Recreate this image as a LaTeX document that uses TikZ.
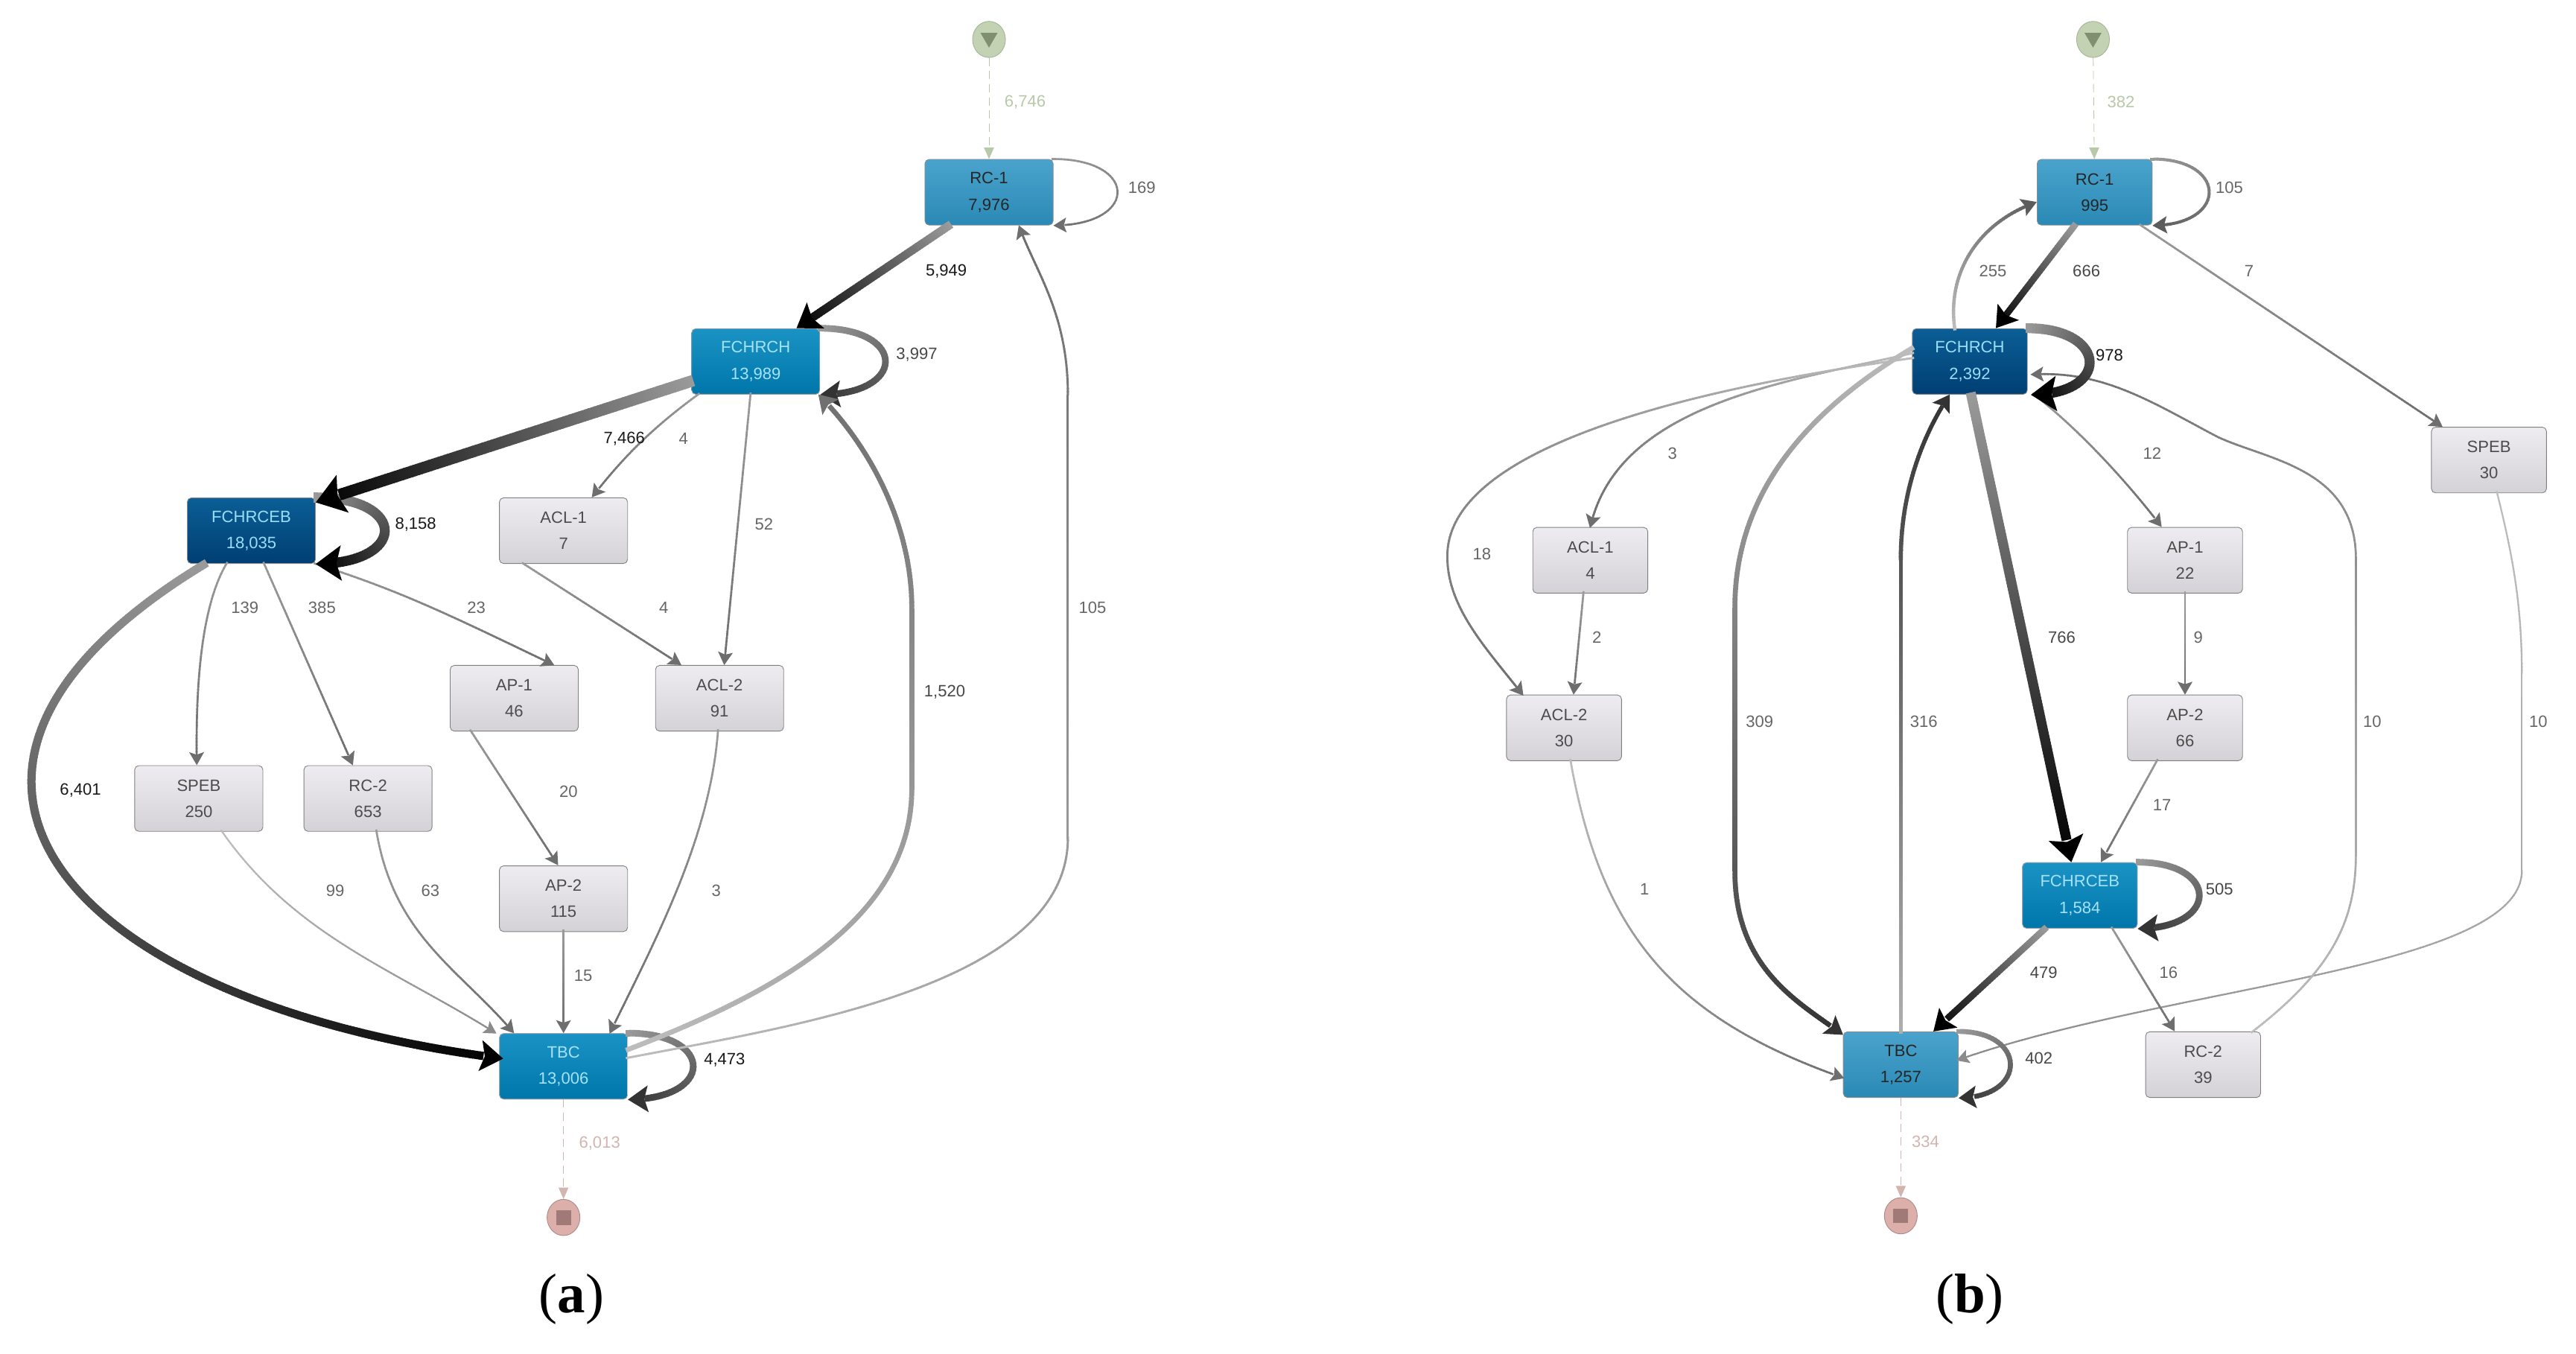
\documentclass[tikz,border=0pt]{standalone}
\usepackage{fontspec}
\setmainfont{Liberation Sans}
\newfontfamily\capfont{Liberation Serif}
\usepackage{tikz}
\usetikzlibrary{
  shapes.geometric,
  arrows.meta,
  decorations.markings
}
\definecolor{startfill}{HTML}{C4D2B4}
\definecolor{startedge}{HTML}{A3B394}
\definecolor{starticon}{HTML}{7F9070}
\definecolor{startflow}{HTML}{B7C9A8}
\definecolor{endfill}{HTML}{DCAFAB}
\definecolor{endedge}{HTML}{AD8783}
\definecolor{endicon}{HTML}{A07A76}
\definecolor{endflow}{HTML}{D3B5B0}
\definecolor{flowlight}{HTML}{BDBDBD}
\definecolor{flowbase}{HTML}{AEAEAE}
\definecolor{flowmid}{HTML}{9A9A9A}
\definecolor{flowsoft}{HTML}{8B8B8B}
\definecolor{flowgrit}{HTML}{707070}
\definecolor{flowdark}{HTML}{6E6E6E}
\definecolor{flowfirm}{HTML}{5C5C5C}
\definecolor{flowdeep}{HTML}{333333}
\definecolor{softtop}{HTML}{4AA3CC}
\definecolor{softbot}{HTML}{2A8AB5}
\definecolor{vividtop}{HTML}{1A93C4}
\definecolor{vividbot}{HTML}{0076AA}
\definecolor{deeptop}{HTML}{0B5E96}
\definecolor{deepbot}{HTML}{003F73}
\definecolor{paletop}{HTML}{EEECF0}
\definecolor{palebot}{HTML}{D4D2D7}

\begin{document}
\begin{tikzpicture}[
    x=1pt, y=-1pt,
    font=\fontsize{10}{16}\selectfont,
    box/.style={
      rectangle, rounded corners=2.5pt,
      minimum height=40pt, inner sep=0pt,
      text centered, align=center, draw
    },
    boxa/.style={box, minimum width=78pt},
    boxb/.style={box, minimum width=70pt},
    pale/.style={draw=black!50, top color=paletop, bottom color=palebot, text=black!70},
    soft/.style={draw=black!45, top color=softtop, bottom color=softbot, text=black!85},
    vivid/.style={draw=black!35, top color=vividtop, bottom color=vividbot, text=cyan!35!white},
    deep/.style={draw=black!45, top color=deeptop, bottom color=deepbot, text=cyan!40!white},
    lbl/.style={inner sep=0pt, text=black!60},
    lbldark/.style={lbl, text=black!90},
    lblmid/.style={lbl, text=black!72},
    flow/.style n args={3}{
      decoration={markings,
        mark=between positions 0 and -(5+1.35*#1)*1pt step 2pt with {
          \pgfmathsetmacro\flowmix{min(100,100*(\pgfkeysvalueof{/pgf/decoration/mark info/distance from start}/\pgfdecoratedpathlength))}
          \fill[#3!\flowmix!#2] ({-1.3},{-#1/2}) rectangle ({1.3},{#1/2});
        },
        mark=at position -4pt with {
          \fill[#3] (4,0) -- ({-2-1.6*#1},{3+1.3*#1}) -- ({-0.8-1.3*#1},0)
            -- ({-2-1.6*#1},{-3-1.3*#1}) -- cycle;
        }
      }, decorate
    },
    heavy/.style={flow={#1}{flowmid}{black}},
    strong/.style={flow={#1}{flowmid}{flowdeep}},
    plain/.style={flow={1.2}{flowmid}{flowdark}},
    faint/.style={flow={1}{flowlight}{flowsoft}},
    entry/.style={dashed, dash pattern=on 5pt off 3pt, draw=startflow, -{Triangle[length=7pt,width=6pt]}},
    leave/.style={dashed, dash pattern=on 5pt off 3pt, draw=endflow, -{Triangle[length=7pt,width=6pt]}},
    startnode/.style={ellipse, draw=startedge, fill=startfill, minimum width=20pt, minimum height=22pt, inner sep=0pt},
    stopnode/.style={ellipse, draw=endedge, fill=endfill, minimum width=20pt, minimum height=22pt, inner sep=0pt},
    starttip/.style={regular polygon, regular polygon sides=3, shape border rotate=180, fill=starticon, minimum size=12pt, inner sep=0pt},
    stopicon/.style={rectangle, fill=endicon, minimum size=9pt, inner sep=0pt},
    subcap/.style={font=\capfont\fontsize{34}{36}\selectfont, inner sep=0pt},
  ]
  \useasboundingbox (0,0) rectangle (1568,823.7);

  %% -- Left map: nodes
  \node[startnode] (starta) at (602,24) {};
  \node[starttip]  (starta-icon) at (602,23) {};
  \node[boxa, soft]  (rc1a)   at (602,117) {RC-1\\7,976};
  \node[boxa, vivid] (fcha)   at (460,220) {FCHRCH\\13,989};
  \node[boxa, deep]  (feba)   at (153,323) {FCHRCEB\\18,035};
  \node[boxa, pale]  (acl1a)  at (343,323) {ACL-1\\7};
  \node[boxa, pale]  (ap1a)   at (313,425) {AP-1\\46};
  \node[boxa, pale]  (acl2a)  at (438,425) {ACL-2\\91};
  \node[boxa, pale]  (speba)  at (121,486) {SPEB\\250};
  \node[boxa, pale]  (rc2a)   at (224,486) {RC-2\\653};
  \node[boxa, pale]  (ap2a)   at (343,547) {AP-2\\115};
  \node[boxa, vivid] (tbca)   at (343,649) {TBC\\13,006};
  \node[stopnode] (stopa) at (343,741) {};
  \node[stopicon] (stopa-icon) at (343,741) {};

  %% -- Left map: connectors
  \draw[entry] (starta) -- (rc1a);
  \draw[leave] (tbca) -- (stopa);
  \path[plain] (rc1a.north east) .. controls +(52,0) and +(52,0) .. (rc1a.south east);
  \path[strong=4] (fcha.north east) .. controls +(53,0) and +(53,0) .. (fcha.south east);
  \path[heavy=5] ([xshift=15pt]rc1a.south west) -- ([xshift=64pt]fcha.north west);
  \path[plain] ([xshift=4pt]fcha.south west) .. controls (395,262) and (378,280) .. ([xshift=-22pt]acl1a.north east);
  \path[plain] ([xshift=36pt]fcha.south west) -- ([xshift=42pt]acl2a.north west);
  \path[plain] (feba.south east) .. controls (245,360) and (275,375) .. ([xshift=-15pt]ap1a.north east);
  \path[heavy=6] (feba.north east) .. controls +(56,0) and +(56,0) .. (feba.south east);
  \path[heavy=7] ([yshift=-12pt]fcha.west) -- ([yshift=-3pt]feba.north east);
  \path[plain] ([xshift=24pt]feba.south west) .. controls (122,370) and (119,420) .. ([xshift=38pt]speba.north west);
  \path[plain] ([xshift=47pt]feba.south west) -- ([xshift=30pt]rc2a.north west);
  \path[heavy=5] ([xshift=11pt]feba.south west) .. controls (-85,470) and (40,610) .. ([yshift=5pt]tbca.west);
  \path[plain] ([xshift=13pt]ap1a.south west) -- ([xshift=36pt]ap2a.north west);
  \path[plain] ([xshift=15pt]acl1a.south west) -- ([xshift=16pt]acl2a.north west);
  \path[plain] ([xshift=-1pt]acl2a.south) .. controls (432,510) and (400,570) .. ([xshift=-11pt]tbca.north east);
  \path[plain] (ap2a) -- (tbca);
  \path[faint] ([xshift=-25pt]speba.south east) .. controls (180,570) and (240,590) .. ([xshift=-2pt]tbca.north west);
  \path[plain] ([xshift=-34pt]rc2a.south east) .. controls (240,570) and (280,590) .. ([xshift=9pt]tbca.north west);
  \path[strong=4] (tbca.north east) .. controls +(53,0) and +(53,0) .. (tbca.south east);
  \path[flow={3}{flowlight}{flowgrit}] ([yshift=-10pt]tbca.north east) .. controls (470,605) and (555,560) .. (555,480) -- (555,370) .. controls (555,320) and (530,272) .. ([xshift=-1pt]fcha.south east);
  \path[flow={1.3}{flowlight}{flowdark}] ([yshift=-15pt]tbca.north east) .. controls (480,625) and (650,600) .. (650,510) -- (650,240) .. controls (650,190) and (630,165) .. ([xshift=-21pt]rc1a.south east);

  %% -- Left map: counts
  \node[lbl, text=startflow] (t6746) at (624,62)  {6,746};
  \node[lbl]     (t169)  at (695,114) {169};
  \node[lbldark] (t5949) at (576,165) {5,949};
  \node[lblmid]  (t3997) at (558,216) {3,997};
  \node[lbldark] (t7466) at (380,267) {7,466};
  \node[lbl]     (t4a)   at (416,267) {4};
  \node[lbl]     (t52)   at (465,319) {52};
  \node[lbldark] (t8158) at (253,319) {8,158};
  \node[lbl]     (t139)  at (149,370) {139};
  \node[lbl]     (t385)  at (196,370) {385};
  \node[lbl]     (t23)   at (290,370) {23};
  \node[lbl]     (t4b)   at (404,370) {4};
  \node[lbl]     (t105a) at (665,370) {105};
  \node[lblmid]  (t1520) at (575,421) {1,520};
  \node[lbldark] (t6401) at (49,481)  {6,401};
  \node[lbl]     (t20)   at (346,482) {20};
  \node[lbl]     (t99)   at (204,542) {99};
  \node[lbl]     (t63)   at (262,542) {63};
  \node[lbl]     (t3a)   at (436,542) {3};
  \node[lbl]     (t15)   at (355,594) {15};
  \node[lbldark] (t4473) at (441,645) {4,473};
  \node[lbl, text=endflow] (t6013) at (365,696) {6,013};
  \node[subcap] (capa) at (348,791) {(\textbf{a})};

  %% -- Right map: nodes
  \node[startnode] (startb) at (1274,24) {};
  \node[starttip]  (startb-icon) at (1274,23) {};
  \node[boxb, soft]  (rc1b)   at (1275,117) {RC-1\\995};
  \node[boxb, deep]  (fchb)   at (1199,220) {FCHRCH\\2,392};
  \node[boxb, pale]  (spebb)  at (1515,280) {SPEB\\30};
  \node[boxb, pale]  (acl1b)  at (968,341)  {ACL-1\\4};
  \node[boxb, pale]  (ap1b)   at (1330,341) {AP-1\\22};
  \node[boxb, pale]  (acl2b)  at (952,443)  {ACL-2\\30};
  \node[boxb, pale]  (ap2b)   at (1330,443) {AP-2\\66};
  \node[boxb, vivid] (febb)   at (1266,545) {FCHRCEB\\1,584};
  \node[boxb, soft]  (tbcb)   at (1157,648) {TBC\\1,257};
  \node[boxb, pale]  (rc2b)   at (1341,648) {RC-2\\39};
  \node[stopnode] (stopb) at (1157,740) {};
  \node[stopicon] (stopb-icon) at (1157,740) {};

  %% -- Right map: connectors
  \draw[entry] (startb) -- (rc1b);
  \draw[leave] (tbcb) -- (stopb);
  \path[flow={1.8}{flowmid}{flowfirm}] (rc1b.north east) .. controls +(46,0) and +(46,0) .. (rc1b.south east);
  \path[heavy=4] ([xshift=23pt]rc1b.south west) -- ([xshift=51pt]fchb.north west);
  \path[flow={2}{flowlight}{flowfirm}] ([xshift=26pt]fchb.north west) .. controls (1185,165) and (1205,135) .. ([yshift=-6pt]rc1b.west);
  \path[plain] ([xshift=-7pt]rc1b.south east) -- ([xshift=7pt]spebb.north west);
  \path[faint] ([xshift=5pt]spebb.south) .. controls (1530,340) and (1535,370) .. (1535,410) -- (1535,530) .. controls (1535,590) and (1320,600) .. ([yshift=3pt]tbcb.east);
  \path[plain] ([xshift=4pt]fchb.south east) .. controls (1270,265) and (1300,300) .. ([xshift=21pt]ap1b.north west);
  \path[flow={1.2}{flowlight}{flowdark}] ([xshift=-5pt]rc2b.north east) .. controls (1420,590) and (1434,560) .. (1434,520) -- (1434,340) .. controls (1434,285) and (1380,280) .. (1350,266) .. controls (1310,245) and (1280,225) .. ([xshift=2pt,yshift=-8pt]fchb.east);
  \path[heavy=6] ([xshift=0pt]fchb.north east) .. controls +(49,0) and +(49,0) .. ([xshift=2pt]fchb.south east);
  \path[flow={1.3}{flowlight}{flowdark}] ([yshift=5pt]fchb.west) .. controls (1090,232) and (985,245) .. (acl1b.north);
  \path[flow={1.3}{flowlight}{flowdark}] ([yshift=2pt]fchb.west) .. controls (1040,235) and (880,270) .. (881,339) .. controls (881,370) and (905,395) .. ([xshift=10pt]acl2b.north west);
  \path[flow={3}{flowlight}{flowdeep}] ([yshift=8pt]fchb.west) .. controls (1100,250) and (1056,300) .. (1056,370) -- (1056,530) .. controls (1056,590) and (1095,610) .. ([yshift=-2pt]tbcb.north west);
  \path[flow={2.5}{flowbase}{flowdeep}] (tbcb.north) -- (1157,340) .. controls (1157,300) and (1170,265) .. ([xshift=23pt]fchb.south west);
  \path[heavy=6] ([xshift=36pt]fchb.south west) -- ([xshift=30pt]febb.north west);
  \path[plain] ([xshift=31pt]acl1b.south west) -- ([xshift=41pt]acl2b.north west);
  \path[plain] (ap1b) -- (ap2b);
  \path[plain] ([xshift=18pt]ap2b.south west) -- ([xshift=48pt]febb.north west);
  \path[flow={1.2}{flowlight}{flowdark}] ([xshift=4pt]acl2b.south) .. controls (975,570) and (1020,620) .. ([yshift=-8pt]tbcb.west);
  \path[strong=4] (febb.north east) .. controls +(50,0) and +(50,0) .. (febb.south east);
  \path[heavy=4] ([xshift=14pt]febb.south west) -- ([xshift=55pt]tbcb.north west);
  \path[plain] ([xshift=55pt]febb.south west) -- ([xshift=18pt]rc2b.north west);
  \path[strong=3] (tbcb.north east) .. controls +(42,0) and +(42,0) .. (tbcb.south east);

  %% -- Right map: counts
  \node[lbl, text=startflow] (t382) at (1291,62) {382};
  \node[lbl]     (t105b) at (1357,114) {105};
  \node[lbl]     (t255)  at (1213,165) {255};
  \node[lblmid]  (t666)  at (1270,165) {666};
  \node[lbl]     (t7)    at (1369,165) {7};
  \node[lbldark] (t978)  at (1284,216) {978};
  \node[lbl]     (t3b)   at (1018,276) {3};
  \node[lbl]     (t12)   at (1310,276) {12};
  \node[lbl]     (t18)   at (902,337)  {18};
  \node[lbl]     (t2)    at (972,388)  {2};
  \node[lbl]     (t9)    at (1338,388) {9};
  \node[lblmid]  (t766)  at (1255,388) {766};
  \node[lbl]     (t309)  at (1071,439) {309};
  \node[lbl]     (t316)  at (1171,439) {316};
  \node[lbl]     (t10a)  at (1444,439) {10};
  \node[lbl]     (t10b)  at (1545,439) {10};
  \node[lbl]     (t17)   at (1316,490) {17};
  \node[lbl]     (t1)    at (1001,541) {1};
  \node[lblmid]  (t505)  at (1351,541) {505};
  \node[lblmid]  (t479)  at (1244,592) {479};
  \node[lbl]     (t16)   at (1320,592) {16};
  \node[lblmid]  (t402)  at (1241,644) {402};
  \node[lbl, text=endflow] (t334) at (1172,695) {334};
  \node[subcap] (capb) at (1199,791) {(\textbf{b})};

\end{tikzpicture}
\end{document}
